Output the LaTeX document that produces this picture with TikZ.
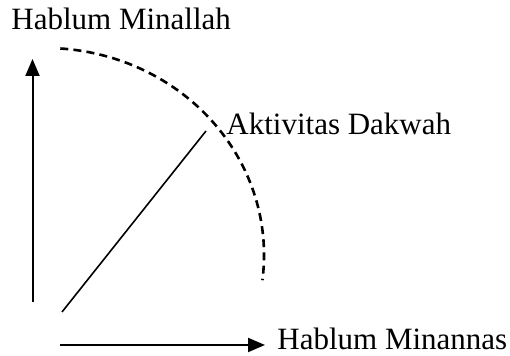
\documentclass[tikz,border=0pt]{standalone}
\usepackage{fontspec}
\setmainfont{Liberation Serif}
\usetikzlibrary{arrows.meta}
\begin{document}
\begin{tikzpicture}[x=0.5pt,y=0.5pt,
  lbl/.style={inner sep=0pt, anchor=base west, font=\fontsize{15.5pt}{18pt}\selectfont},
  axis/.style={line width=1pt, -{Triangle[length=8.5pt,width=7pt]}},
  dashline/.style={line width=1.3pt, dash pattern=on 4pt off 2.6pt}]
\useasboundingbox (0,0) rectangle (510,356);
\node[lbl] (top) at (11,326) {Hablum Minallah};
\node[lbl] (akt) at (226,221) {Aktivitas Dakwah};
\node[lbl] (right) at (277,6) {Hablum Minannas};
\coordinate (vb) at (32.5,54);
\coordinate (vt) at (32.5,297);
\coordinate (hb) at (60,11);
\coordinate (ht) at (265,11);
\coordinate (d0) at (62,44);
\coordinate (d1) at (206,225);
\coordinate (a0) at (60.3,307.5);
\draw[axis] (vb) -- (vt);
\draw[axis] (hb) -- (ht);
\draw[line width=0.8pt] (d0) -- (d1);
\draw[dashline] (a0) arc[start angle=86, end angle=-7, x radius=219, y radius=207];
\end{tikzpicture}
\end{document}
